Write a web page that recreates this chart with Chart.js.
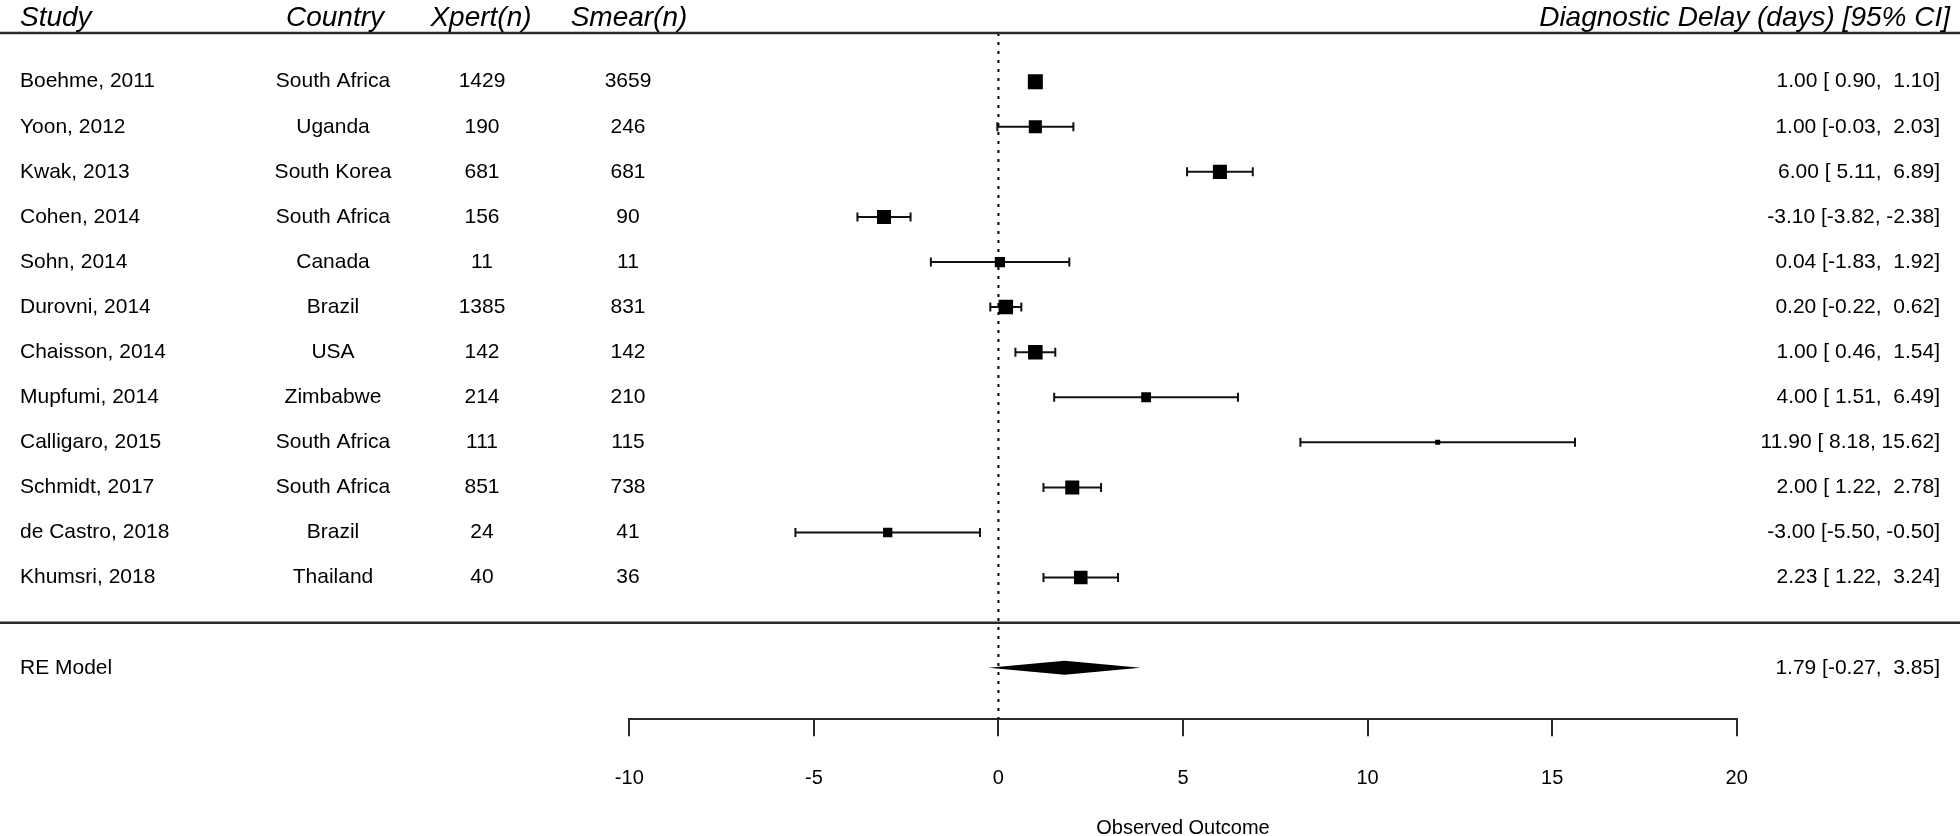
<!DOCTYPE html>
<html>
<head>
<meta charset="utf-8">
<script src="https://cdn.jsdelivr.net/npm/chart.js@4.4.1/dist/chart.umd.min.js"></script>
<style>
  html, body { margin: 0; padding: 0; background: #fff; }
  #wrap { width: 1960px; height: 836px; }
</style>
</head>
<body>
<div id="wrap"><canvas id="forest" width="1960" height="836"></canvas></div>
<script>
const studies = ['Boehme, 2011', 'Yoon, 2012', 'Kwak, 2013', 'Cohen, 2014', 'Sohn, 2014', 'Durovni, 2014',
    'Chaisson, 2014', 'Mupfumi, 2014', 'Calligaro, 2015', 'Schmidt, 2017', 'de Castro, 2018', 'Khumsri, 2018'];
const countries = ['South Africa', 'Uganda', 'South Korea', 'South Africa', 'Canada', 'Brazil',
    'USA', 'Zimbabwe', 'South Africa', 'South Africa', 'Brazil', 'Thailand'];
const xpertN = [1429, 190, 681, 156, 11, 1385, 142, 214, 111, 851, 24, 40];
const smearN = [3659, 246, 681, 90, 11, 831, 142, 210, 115, 738, 41, 36];
const estimate = [1.00, 1.00, 6.00, -3.10, 0.04, 0.20, 1.00, 4.00, 11.90, 2.00, -3.00, 2.23];
const lower = [0.90, -0.03, 5.11, -3.82, -1.83, -0.22, 0.46, 1.51, 8.18, 1.22, -5.50, 1.22];
const upper = [1.10, 2.03, 6.89, -2.38, 1.92, 0.62, 1.54, 6.49, 15.62, 2.78, -0.50, 3.24];
// estimated study weights (%) - drive the box sizes
const weights = [8.7, 8.3, 8.5, 8.5, 7.7, 8.6, 8.6, 7.6, 6.6, 8.5, 7.5, 8.4];
const reLabel = 'RE Model';
const reEstimate = [1.79, -0.27, 3.85]; // est, lower, upper
const xTicks = [-10, -5, 0, 5, 10, 15, 20];

const FONT = '"Liberation Sans", Arial, Helvetica, sans-serif';
Chart.defaults.font.family = FONT;
Chart.defaults.color = '#000';

const ROW_RE = studies.length + 1;   // one blank row before the summary
const wMin = Math.min(...weights), wMax = Math.max(...weights);
const boxRadius = weights.map(w => (5 + (w - wMin) / (wMax - wMin) * 10) / Math.SQRT2);

const fmt = v => v.toFixed(2);
const ciText = (e, l, u) => `${fmt(e)} [${fmt(l).padStart(5)}, ${fmt(u).padStart(5)}]`;

const whiskers = studies.map((s, i) => ({
    data: [{ x: lower[i], y: i }, { x: upper[i], y: i }],
    showLine: true,
    borderColor: '#111',
    borderWidth: 2,
    pointStyle: 'line',
    pointRotation: 90,
    pointRadius: 4.5,
    pointBorderWidth: 2,
    pointBorderColor: '#111'
}));

const tablePlugin = {
    id: 'forestTable',
    afterDatasetsDraw(chart) {
        const { ctx } = chart;
        const x = chart.scales.x, y = chart.scales.y;
        // summary diamond
        const yc = y.getPixelForValue(ROW_RE);
        ctx.save();
        ctx.fillStyle = '#000';
        ctx.beginPath();
        ctx.moveTo(x.getPixelForValue(reEstimate[1]), yc);
        ctx.lineTo(x.getPixelForValue(reEstimate[0]), yc - 7);
        ctx.lineTo(x.getPixelForValue(reEstimate[2]), yc);
        ctx.lineTo(x.getPixelForValue(reEstimate[0]), yc + 7);
        ctx.closePath();
        ctx.fill();
        ctx.restore();
    },
    afterDraw(chart) {
        const { ctx } = chart;
        const y = chart.scales.y;
        const W = chart.width;
        ctx.save();
        // rules
        ctx.strokeStyle = '#2a2a2a';
        ctx.lineWidth = 2.5;
        [y.getPixelForValue(-1.08), y.getPixelForValue(studies.length)].forEach(py => {
            ctx.beginPath();
            ctx.moveTo(0, py);
            ctx.lineTo(W, py);
            ctx.stroke();
        });
        // header
        ctx.fillStyle = '#000';
        ctx.font = `italic 28px ${FONT}`;
        ctx.textBaseline = 'alphabetic';
        ctx.textAlign = 'left';
        ctx.fillText('Study', 20, 26);
        ctx.textAlign = 'center';
        ctx.fillText('Country', 335, 26);
        ctx.fillText('Xpert(n)', 481, 26);
        ctx.fillText('Smear(n)', 629, 26);
        ctx.textAlign = 'right';
        ctx.fillText('Diagnostic Delay (days) [95% CI]', 1950, 26);
        // rows
        ctx.font = `21px ${FONT}`;
        ctx.textBaseline = 'middle';
        studies.forEach((s, i) => {
            const py = y.getPixelForValue(i);
            ctx.textAlign = 'left';
            ctx.fillText(s, 20, py);
            ctx.textAlign = 'center';
            ctx.fillText(countries[i], 333, py);
            ctx.fillText(String(xpertN[i]), 482, py);
            ctx.fillText(String(smearN[i]), 628, py);
            ctx.textAlign = 'right';
            ctx.fillText(ciText(estimate[i], lower[i], upper[i]), 1940, py);
        });
        const pr = y.getPixelForValue(ROW_RE);
        ctx.textAlign = 'left';
        ctx.fillText(reLabel, 20, pr);
        ctx.textAlign = 'right';
        ctx.fillText(ciText(reEstimate[0], reEstimate[1], reEstimate[2]), 1940, pr);
        ctx.restore();
    }
};

new Chart(document.getElementById('forest'), {
    type: 'scatter',
    data: {
        datasets: [
            {
                data: estimate.map((v, i) => ({ x: v, y: i })),
                pointStyle: 'rect',
                pointRadius: boxRadius,
                pointBackgroundColor: '#000',
                pointBorderWidth: 0
            },
            ...whiskers,
            {
                data: [{ x: 0, y: -1.08 }, { x: 0, y: 14.144 }],
                showLine: true,
                borderColor: '#000',
                borderWidth: 2,
                borderDash: [3, 6],
                pointRadius: 0
            }
        ]
    },
    options: {
        responsive: false,
        animation: false,
        devicePixelRatio: 1,
        layout: { padding: { left: 629.3, right: 223.3, top: 14.08, bottom: 0 } },
        plugins: { legend: { display: false }, tooltip: { enabled: false } },
        scales: {
            y: { type: 'linear', reverse: true, min: -1.5, max: 14.144, display: false },
            x: {
                type: 'linear',
                position: 'bottom',
                min: -10,
                max: 20,
                afterBuildTicks: axis => { axis.ticks = xTicks.map(v => ({ value: v })); },
                afterFit: axis => { axis.height = 836 - 719.3; },
                ticks: { font: { size: 20 }, color: '#000', padding: 30 },
                grid: { drawOnChartArea: false, tickLength: 17, color: '#2a2a2a', lineWidth: 2 },
                border: { display: true, color: '#2a2a2a', width: 2 },
                title: { display: true, text: 'Observed Outcome', font: { size: 20, lineHeight: 0.8 }, color: '#000', padding: { top: 0, bottom: 0 } }
            }
        }
    },
    plugins: [tablePlugin]
});
</script>
</body>
</html>
